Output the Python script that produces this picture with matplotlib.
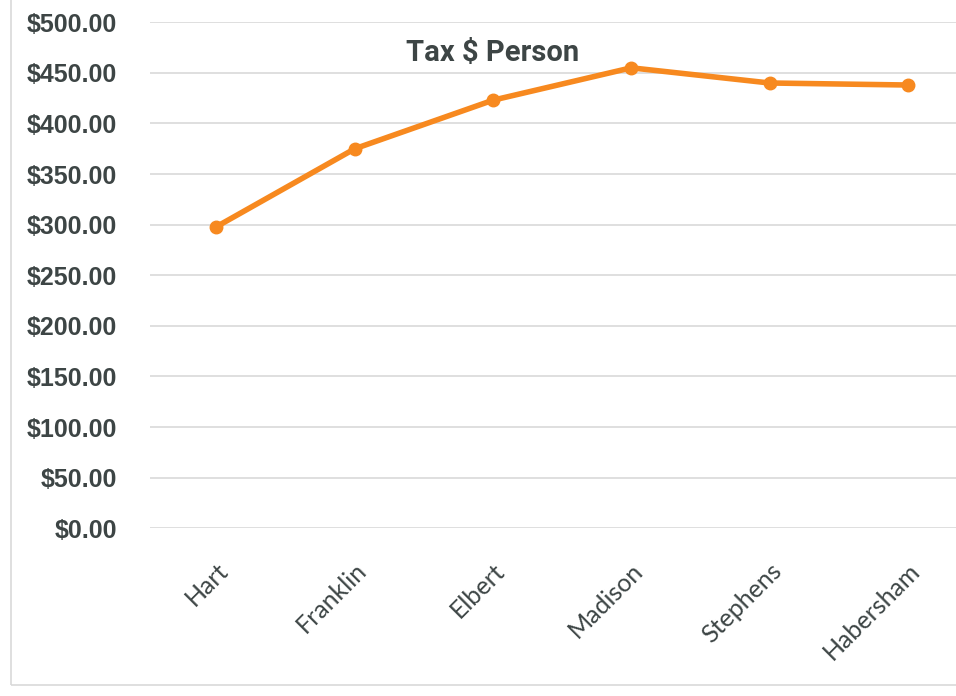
import numpy as np
from matplotlib import pyplot as plt
from matplotlib.ticker import FuncFormatter

counties = ['Hart', 'Franklin', 'Elbert', 'Madison', 'Stephens', 'Habersham']
tax_per_person = [298, 375, 423, 455, 440, 438]

y_ticks = np.arange(0, 501, 50)

fig = plt.figure(figsize=(9.56, 6.96), dpi=100)
ax = fig.add_axes([0.157, 0.241, 0.862, 0.727])

x = np.arange(len(counties))
ax.plot(x, tax_per_person, color='#F7891F', linewidth=4, marker='o',
        markersize=9, zorder=3)

ax.set_ylim(0, 500)
ax.set_xlim(-0.48, len(counties) - 0.52)
ax.set_yticks(y_ticks)
ax.yaxis.set_major_formatter(FuncFormatter(lambda v, p: '${:,.2f}'.format(v)))
ax.grid(axis='y', color='#d9d9d9', linewidth=1.2)
ax.set_axisbelow(True)

for s in ax.spines.values():
    s.set_visible(False)
ax.tick_params(axis='y', length=0, pad=24)

for lab in ax.get_yticklabels():
    lab.set_fontfamily('Liberation Sans')
    lab.set_fontweight('bold')
    lab.set_fontsize(18)
    lab.set_color('#3d4545')

ax.set_xticks(x)
ax.set_xticklabels(counties, rotation=45, ha='right', rotation_mode='anchor',
                   fontfamily='Lato', fontsize=18, color='#3d4545')
ax.tick_params(axis='x', length=0, pad=22)
for lab in ax.get_xticklabels():
    lab.set_x(lab.get_position()[0])

ax.text(0.415, 0.94, 'Tax $ Person', transform=ax.transAxes, ha='center', va='center',
        fontfamily='Roboto', fontweight='bold', fontsize=21, color='#3d4545')

# chart frame
fig.patches.append(plt.Rectangle((0.011, 0.016), 1.2, 1.2, transform=fig.transFigure,
                                 fill=False, edgecolor='#d9d9d9', linewidth=1.2))

fig.savefig('out.png', dpi=100, facecolor='white')
